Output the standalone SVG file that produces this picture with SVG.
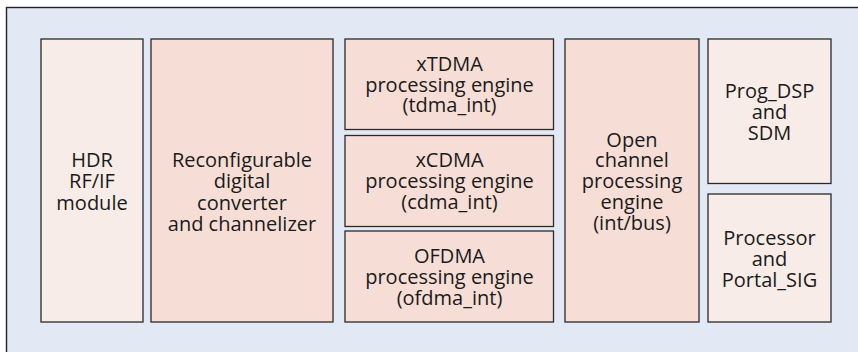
<svg xmlns="http://www.w3.org/2000/svg" width="858" height="352" viewBox="0 0 858 352">
<style>
.frame{fill:#e3e9f4;stroke:#222;stroke-width:1.4}
.a{fill:#f7ece7;stroke:#2a2a2a;stroke-width:1.3}
.b{fill:#f6ded6;stroke:#2a2a2a;stroke-width:1.3}
text{font-family:"Open Sans","Noto Sans",sans-serif;font-size:20px;fill:#1a1a1a;text-anchor:middle}
</style>
<rect width="858" height="352" fill="#ffffff"/>
<rect class="frame" x="6.5" y="7.5" width="860" height="360"/>
<g id="hdr">
<rect class="a" x="41" y="39" width="102" height="283"/>
<text x="92" y="166.7">HDR</text>
<text x="92" y="188.3">RF/IF</text>
<text x="92" y="210">module</text>
</g>
<g id="reconf">
<rect class="b" x="151" y="39" width="182" height="283"/>
<text x="242" y="166.7">Reconfigurable</text>
<text x="242" y="188.3">digital</text>
<text x="242" y="210">converter</text>
<text x="242" y="231">and channelizer</text>
</g>
<g id="xtdma">
<rect class="b" x="345" y="39" width="208.5" height="90.5"/>
<text x="449.5" y="70.7">xTDMA</text>
<text x="449.5" y="91.7">processing engine</text>
<text x="449.5" y="111.7">(tdma_int)</text>
</g>
<g id="xcdma">
<rect class="b" x="345" y="135.5" width="208.5" height="91"/>
<text x="449.5" y="166.7">xCDMA</text>
<text x="449.5" y="188.3">processing engine</text>
<text x="449.5" y="209">(cdma_int)</text>
</g>
<g id="ofdma">
<rect class="b" x="345" y="231" width="208.5" height="91"/>
<text x="449.5" y="262.7">OFDMA</text>
<text x="449.5" y="284">processing engine</text>
<text x="449.5" y="304.5">(ofdma_int)</text>
</g>
<g id="open">
<rect class="b" x="565" y="39" width="134" height="283"/>
<text x="632" y="146.7">Open</text>
<text x="632" y="166.7">channel</text>
<text x="632" y="188.3">processing</text>
<text x="632" y="209">engine</text>
<text x="632" y="230">(int/bus)</text>
</g>
<g id="progdsp">
<rect class="a" x="708" y="39" width="123" height="144.5"/>
<text x="769.5" y="97.7">Prog_DSP</text>
<text x="769.5" y="119">and</text>
<text x="769.5" y="140">SDM</text>
</g>
<g id="processor">
<rect class="a" x="708" y="194" width="123" height="128"/>
<text x="769.5" y="245">Processor</text>
<text x="769.5" y="266">and</text>
<text x="769.5" y="286.5">Portal_SIG</text>
</g>
<g id="connectors"></g>
</svg>
